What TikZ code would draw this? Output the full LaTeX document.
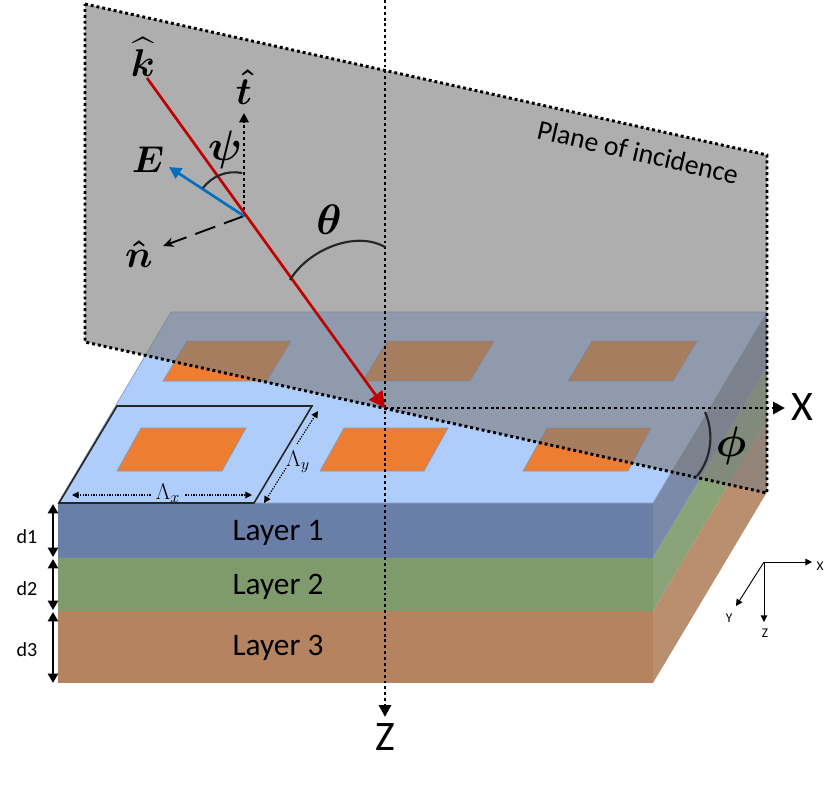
\RequirePackage{fix-cm}
\documentclass[tikz,border=0pt]{standalone}
\usepackage{amsmath,amssymb}
\usepackage{fontspec}
\setmainfont{Carlito}
\usetikzlibrary{arrows.meta}
\definecolor{topCol}{HTML}{AFCDFB}
\definecolor{edgeCol}{HTML}{7F9BC4}
\definecolor{patchCol}{HTML}{ED7D31}
\definecolor{layerOne}{HTML}{6A7FA8}
\definecolor{layerTwo}{HTML}{7F9B6B}
\definecolor{layerThree}{HTML}{B5835F}
\definecolor{sideOne}{HTML}{7A8AA8}
\definecolor{sideTwo}{HTML}{8AA378}
\definecolor{sideThree}{HTML}{B98F70}
\definecolor{planeCol}{HTML}{7D7D7D}
\definecolor{rayCol}{HTML}{C00000}
\definecolor{fieldCol}{HTML}{0070C0}

\begin{document}
\begin{tikzpicture}[
    x=0.75pt, y=-0.75pt,
    % Node styles
    patch/.style={
        draw=edgeCol,
        fill=patchCol,
        line width=0.5pt
    },
    sym/.style={
        font=\fontsize{#1}{#1}\selectfont\boldmath,
        inner sep=0pt
    },
    finesym/.style={
        font=\fontsize{#1}{#1}\selectfont,
        inner sep=0pt
    },
    layerlabel/.style={
        font=\fontsize{23.5}{27}\selectfont,
        inner sep=0pt
    },
    thicklabel/.style={
        font=\fontsize{15}{17}\selectfont,
        inner sep=0pt
    },
    axislabel/.style={
        font=\fontsize{31.5}{36}\selectfont,
        inner sep=0pt
    },
    smalllabel/.style={
        font=\fontsize{10}{12}\selectfont,
        inner sep=0pt
    },
    % Line styles
    axis/.style={
        -{Triangle[length=9pt,width=9pt]},
        line width=2.2pt,
        dash pattern=on 2.2pt off 2.2pt
    },
    planeline/.style={
        line width=2.2pt,
        dash pattern=on 2.2pt off 2.2pt
    },
    fineaxis/.style={
        -{Triangle[length=5pt,width=5pt]},
        line width=0.9pt,
        dash pattern=on 1pt off 1pt
    },
    thinaxis/.style={
        -{Triangle[length=5pt,width=5pt]},
        line width=0.7pt
    },
    thickness/.style={
        {Triangle[length=7pt,width=7.5pt]}-{Triangle[length=7pt,width=7.5pt]},
        line width=1.8pt
    },
    anglearc/.style={
        line width=1.6pt,
        draw=black!85
    }
]
    \useasboundingbox (0,0) rectangle (840,790);

    % ==== SLAB ====
    \fill[sideOne] (653,503) -- (767,312) -- (767,367) -- (653,558) -- cycle;
    \fill[sideTwo] (653,558) -- (767,367) -- (767,420) -- (653,611) -- cycle;
    \fill[sideThree] (653,611) -- (767,420) -- (767,492) -- (653,683) -- cycle;
    \fill[layerOne] (58,503) rectangle (653,558);
    \fill[layerTwo] (58,558) rectangle (653,611);
    \fill[layerThree] (58,611) rectangle (653,683);
    \draw[edgeCol, fill=topCol, line width=0.5pt] (58,503) -- (171,312) -- (767,312) -- (653,503) -- cycle;

    % ==== PATCHES ====
    \draw[patch] (163,381) -- (187,341) -- (291,341) -- (267,381) -- cycle;
    \draw[patch] (363,381) -- (387,341) -- (494,341) -- (470,381) -- cycle;
    \draw[patch] (568,381) -- (592,341) -- (697,341) -- (673,381) -- cycle;
    \draw[patch] (117,471) -- (141,428) -- (246,428) -- (222,471) -- cycle;
    \draw[patch] (320,471) -- (344,428) -- (448,428) -- (424,471) -- cycle;
    \draw[patch] (523,471) -- (547,428) -- (651,428) -- (628,471) -- cycle;

    % Unit cell
    \draw[line width=1.2pt, draw=black!85] (59,503) -- (117,406) -- (312,406) -- (254,503) -- cycle;

    % ==== PLANE OF INCIDENCE ====
    \coordinate (pa) at (85,4);
    \coordinate (pb) at (767,155);
    \coordinate (pc) at (767,493);
    \coordinate (pd) at (85,342);
    \fill[planeCol, opacity=0.625] (pa) -- (pb) -- (pc) -- (pd) -- cycle;
    \draw[planeline] (pa) -- (pb) -- (pc) -- (pd) -- cycle;
    \node[rotate=-13, font=\fontsize{20.8}{24}\selectfont, inner sep=0pt] (planename) at (638,152) {Plane of incidence};

    % ==== AXES ====
    \coordinate (origin) at (385,408);
    \coordinate (ztop) at (385,0);
    \node[axislabel] (xname) at (802,407) {X};
    \node[axislabel] (zname) at (385,737) {Z};
    \draw[axis] (origin) -- (785,408);
    \draw[axis] (ztop) -- (385,717);

    % ==== WAVE VECTORS ====
    \coordinate (pivot) at (244,216);
    \node[sym=29] (khat) at (143,57) {$\widehat{k}$};
    \node[sym=29] (that) at (244,87) {$\hat{t}$};
    \node[sym=28] (ename) at (148,160) {$E$};
    \node[sym=29] (nhat) at (139,254) {$\hat{n}$};
    \coordinate (kstart) at (147,78);
    \coordinate (ttip) at (244,113);
    \coordinate (etip) at (169,167);
    \coordinate (ntip) at (163,246);
    \draw[axis, -{Triangle[length=7pt,width=7pt]}] (pivot) -- (ttip);
    \draw[-{Stealth[length=8pt,width=7pt]}, line width=1.4pt, dash pattern=on 16pt off 7pt] (pivot) -- (ntip);
    \draw[rayCol, line width=2pt, -{Triangle[length=12pt,width=12pt]}] (kstart) -- (origin);
    \draw[fieldCol, line width=2pt, -{Triangle[length=9pt,width=9pt]}] (pivot) -- (etip);

    % ==== ANGLES ====
    \node[sym=32] (psiname) at (225,150) {$\psi$};
    \node[sym=32] (thetaname) at (329,220) {$\theta$};
    \node[sym=32] (phiname) at (731,446) {$\phi$};
    \draw[anglearc] (203,188) .. controls (212,176) and (227,170) .. (242,173);
    \draw[anglearc] (290,280) .. controls (308,250) and (355,230) .. (385,247);
    \draw[anglearc] (705,412) .. controls (714,432) and (712,458) .. (697,476);

    % ==== PERIODS ====
    \node[finesym=17] (lamx) at (168,493) {$\Lambda_x$};
    \node[finesym=17] (lamy) at (298,462) {$\Lambda_y$};
    \draw[fineaxis] (lamx.west) ++(-5,2) -- (72,495);
    \draw[fineaxis] (lamx.east) ++(5,2) -- (252,495);
    \coordinate (lyup) at (297,444);
    \coordinate (lydown) at (286,468);
    \draw[fineaxis] (lyup) -- (318,411);
    \draw[fineaxis] (lydown) -- (264,503);

    % ==== LAYERS ====
    \node[layerlabel] (layer1) at (278,533) {Layer 1};
    \node[layerlabel] (layer2) at (278,587) {Layer 2};
    \node[layerlabel] (layer3) at (278,648) {Layer 3};
    \node[thicklabel] (d1) at (27,537) {d1};
    \node[thicklabel] (d2) at (27,589) {d2};
    \node[thicklabel] (d3) at (27,650) {d3};
    \coordinate (t0) at (53,504);
    \coordinate (t1) at (53,557);
    \coordinate (t2) at (53,559);
    \coordinate (t3) at (53,610);
    \coordinate (t4) at (53,612);
    \coordinate (t5) at (53,683);
    \draw[thickness] (t0) -- (t1);
    \draw[thickness] (t2) -- (t3);
    \draw[thickness] (t4) -- (t5);

    % ==== SMALL TRIAD ====
    \coordinate (tri) at (764,562);
    \node[smalllabel] (trix) at (820,566) {X};
    \node[smalllabel] (triy) at (729,618) {Y};
    \node[smalllabel] (triz) at (765,633) {Z};
    \draw[thinaxis] (tri) -- (812,562);
    \draw[thinaxis] (tri) -- (736,606);
    \draw[thinaxis] (tri) -- (764,622);

\end{tikzpicture}
\end{document}
